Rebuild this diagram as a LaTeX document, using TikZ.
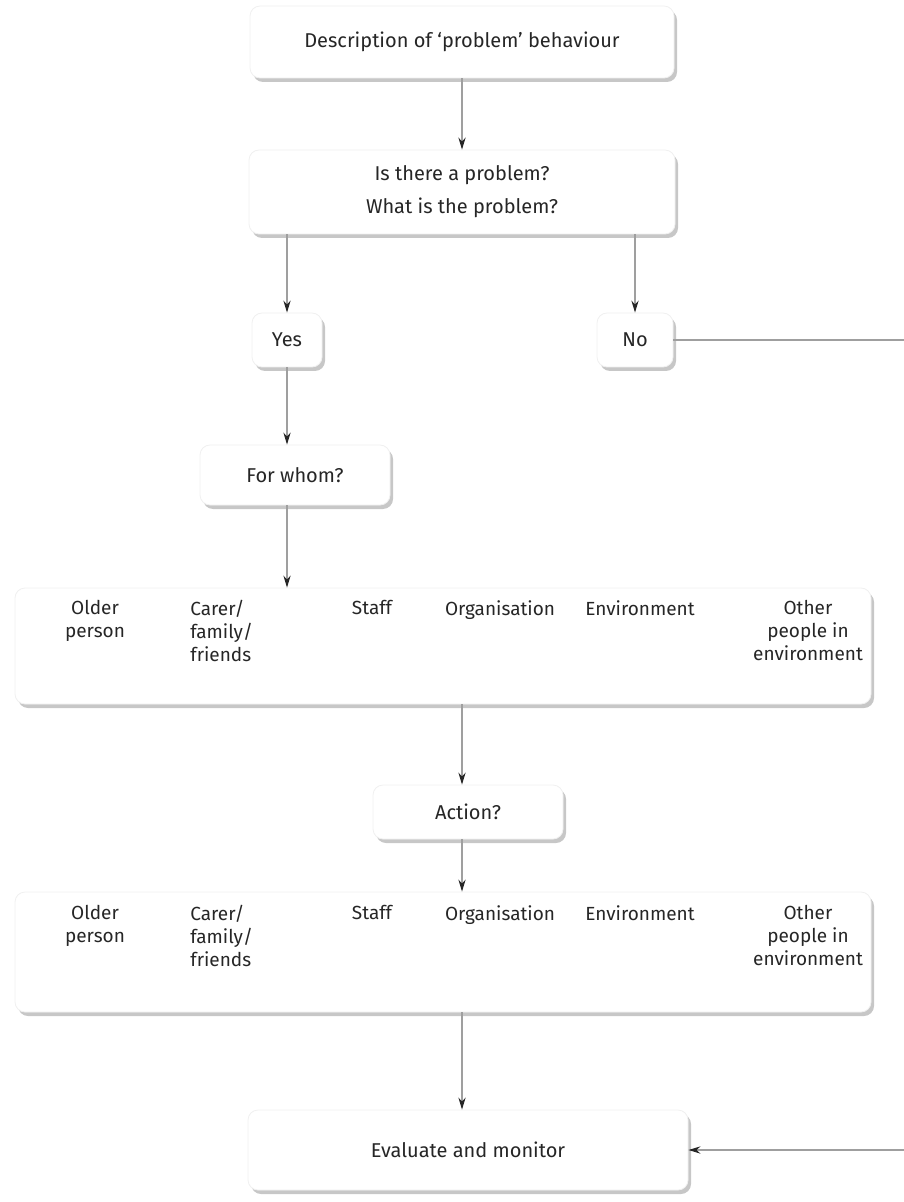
\documentclass[tikz,border=0pt]{standalone}
\usepackage{fontspec}
\setmainfont{Fira Sans}
\usetikzlibrary{arrows.meta,shadows}

\begin{document}
\begin{tikzpicture}[x=0.5pt,y=-0.5pt,
  box/.style={draw=gray!12,fill=white,rounded corners=5pt,align=center,
    drop shadow={shadow xshift=1.5pt,shadow yshift=-2pt,fill=gray!80,opacity=0.55},
    text=black!85,font=\fontsize{10}{16.5}\selectfont},
  item/.style={text=black!85,font=\fontsize{9.5}{11.5}\selectfont,
    anchor=north,inner sep=0pt,align=center},
  arr/.style={draw=gray!75,line width=0.6pt,
    -{Stealth[length=6pt,width=3.6pt,black!85]}}]
\useasboundingbox (0,0) rectangle (903,1202);

\node[box,minimum width=212pt,minimum height=36pt] (desc) at (462,42) {Description of ‘problem’ behaviour};
\node[box,minimum width=213pt,minimum height=42pt] (prob) at (462,192) {Is there a problem?\\What is the problem?};
\node[box,minimum width=35pt,minimum height=27pt] (yes) at (287,340) {Yes};
\node[box,minimum width=38pt,minimum height=27pt] (no) at (635,340) {No};
\node[box,minimum width=95pt,minimum height=30pt] (whom) at (295,475) {For whom?};
\node[box,minimum width=428pt,minimum height=58pt] (grp1) at (443,646) {};
\node[box,minimum width=95pt,minimum height=27pt] (act) at (468,812) {Action?};
\node[box,minimum width=428pt,minimum height=60pt] (grp2) at (443,952) {};
\node[box,minimum width=220pt,minimum height=40pt] (eval) at (468,1150) {Evaluate and monitor};

% who is affected
\node[item] (old1) at (95,600) {Older\\person};
\node[item,align=left,anchor=north west] (car1) at (190,600) {Carer/\\family/\\friends};
\node[item] (stf1) at (372,600) {Staff};
\node[item] (org1) at (500,600) {Organisation};
\node[item] (env1) at (640,600) {Environment};
\node[item] (oth1) at (808,600) {Other\\people in\\environment};

% where to act
\node[item] (old2) at (95,905) {Older\\person};
\node[item,align=left,anchor=north west] (car2) at (190,905) {Carer/\\family/\\friends};
\node[item] (stf2) at (372,905) {Staff};
\node[item] (org2) at (500,905) {Organisation};
\node[item] (env2) at (640,905) {Environment};
\node[item] (oth2) at (808,905) {Other\\people in\\environment};

\coordinate (rt) at (915,0);

\draw[arr] (desc.south) -- (prob.north);
\draw[arr] (prob.south -| yes) -- (yes.north);
\draw[arr] (prob.south -| no) -- (no.north);
\draw[arr] (yes.south) -- (yes.south |- whom.north);
\draw[arr] (whom.south -| yes) -- (yes |- grp1.north);
\draw[arr] (grp1.south -| desc) -- (desc |- act.north);
\draw[arr] (act.south -| desc) -- (desc |- grp2.north);
\draw[arr] (grp2.south -| desc) -- (desc |- eval.north);
\draw[arr] (no.east) -- (no.east -| rt) -- (rt |- eval.east) -- (eval.east);
\end{tikzpicture}
\end{document}
